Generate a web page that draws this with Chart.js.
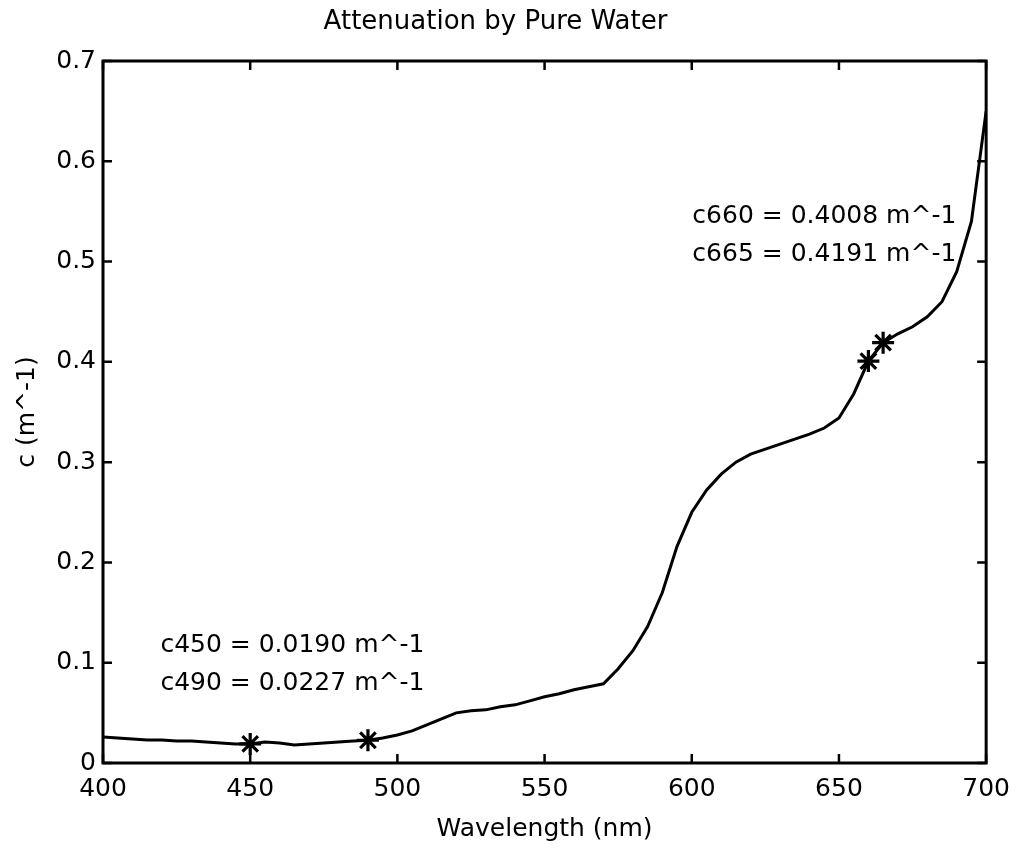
<!DOCTYPE html>
<html>
<head>
<meta charset="utf-8">
<script src="https://cdn.jsdelivr.net/npm/chart.js@4.4.1/dist/chart.umd.min.js"></script>
<style>
  html, body { margin: 0; padding: 0; background: #fff; }
  #wrap { width: 1021px; height: 848px; position: relative; }
</style>
</head>
<body>
<div id="wrap"><canvas id="c"></canvas></div>
<script>
// ---- data ----
const wavelengths = [400,405,410,415,420,425,430,435,440,445,450,455,460,465,470,475,480,485,490,495,
  500,505,510,515,520,525,530,535,540,545,550,555,560,565,570,575,580,585,590,595,
  600,605,610,615,620,625,630,635,640,645,650,655,660,665,670,675,680,685,690,695,700];
const attenuation = [0.026,0.025,0.024,0.023,0.023,0.022,0.022,0.021,0.020,0.019,0.019,0.021,0.020,0.018,0.019,0.020,0.021,0.022,0.0227,0.025,
  0.028,0.032,0.038,0.044,0.050,0.052,0.053,0.056,0.058,0.062,0.066,0.069,0.073,0.076,0.079,0.094,0.112,0.136,0.170,0.216,
  0.250,0.272,0.288,0.300,0.308,0.313,0.318,0.323,0.328,0.334,0.344,0.368,0.4008,0.4191,0.428,0.435,0.445,0.460,0.490,0.540,0.650];
const markerWavelengths = [450, 490, 660, 665];
const markerValues = [0.0190, 0.0227, 0.4008, 0.4191];
const lowerNotes = ["c450 = 0.0190 m^-1", "c490 = 0.0227 m^-1"];
const upperNotes = ["c660 = 0.4008 m^-1", "c665 = 0.4191 m^-1"];
const xTicks = [400, 450, 500, 550, 600, 650, 700];
const yTicks = [0, 0.1, 0.2, 0.3, 0.4, 0.5, 0.6, 0.7];
const titleText = "Attenuation by Pure Water";
const xTitle = "Wavelength (nm)";
const yTitle = "c (m^-1)";

const FONT = "'DejaVu Sans', 'Liberation Sans', sans-serif";

const curve = wavelengths.map((w, i) => ({ x: w, y: attenuation[i] }));
const markers = markerWavelengths.map((w, i) => ({ x: w, y: markerValues[i] }));

const framePlugin = {
  id: 'frame',
  afterDraw(chart) {
    const { ctx, chartArea: a, scales: { x, y } } = chart;
    ctx.save();
    ctx.strokeStyle = '#000';
    ctx.lineWidth = 3;
    ctx.strokeRect(a.left, a.top, a.right - a.left, a.bottom - a.top);
    const L = 9;
    ctx.lineWidth = 2.5;
    ctx.beginPath();
    xTicks.forEach(v => {
      const px = x.getPixelForValue(v);
      ctx.moveTo(px, a.bottom); ctx.lineTo(px, a.bottom - L);
      ctx.moveTo(px, a.top); ctx.lineTo(px, a.top + L);
    });
    yTicks.forEach(v => {
      const py = y.getPixelForValue(v);
      ctx.moveTo(a.left, py); ctx.lineTo(a.left + L, py);
      ctx.moveTo(a.right, py); ctx.lineTo(a.right - L, py);
    });
    ctx.stroke();
    // text notes (placed in data coordinates)
    ctx.fillStyle = '#000';
    ctx.font = "25px " + FONT;
    ctx.textAlign = 'left';
    ctx.textBaseline = 'alphabetic';
    const lx = x.getPixelForValue(419.5);
    ctx.fillText(lowerNotes[0], lx, y.getPixelForValue(0.111));
    ctx.fillText(lowerNotes[1], lx, y.getPixelForValue(0.073));
    const ux = x.getPixelForValue(600.2);
    ctx.fillText(upperNotes[0], ux, y.getPixelForValue(0.538));
    ctx.fillText(upperNotes[1], ux, y.getPixelForValue(0.501));
    ctx.restore();
  }
};

new Chart(document.getElementById('c'), {
  type: 'line',
  data: {
    datasets: [
      {
        type: 'line',
        data: curve,
        borderColor: '#000',
        borderWidth: 3,
        pointRadius: 0,
        tension: 0,
        fill: false
      },
      {
        type: 'scatter',
        data: markers,
        pointStyle: 'star',
        pointRadius: 11,
        pointBorderWidth: 3.2,
        borderColor: '#000',
        backgroundColor: '#000',
        showLine: false
      }
    ]
  },
  options: {
    responsive: true,
    maintainAspectRatio: false,
    animation: false,
    events: [],
    layout: { padding: { left: 0, right: 30, top: 0, bottom: 0 } },
    plugins: {
      legend: { display: false },
      tooltip: { enabled: false },
      title: {
        display: true,
        text: titleText,
        color: '#000',
        font: { family: FONT, size: 26, weight: 'normal', lineHeight: 1.2 },
        padding: { top: 7, bottom: 22.8 }
      }
    },
    scales: {
      x: {
        type: 'linear',
        min: 400, max: 700,
        afterBuildTicks: s => { s.ticks = xTicks.map(v => ({ value: v })); },
        afterFit: s => { s.height = 85; },
        grid: { display: false, drawTicks: false },
        border: { display: false },
        ticks: {
          color: '#000', autoSkip: false, maxRotation: 0, padding: 11,
          font: { family: FONT, size: 25, lineHeight: 1.2 },
          callback: v => String(v)
        },
        title: {
          display: true, text: xTitle, color: '#000',
          font: { family: FONT, size: 25, lineHeight: 1.2 },
          padding: { top: 0, bottom: 4 }
        }
      },
      y: {
        type: 'linear',
        min: 0, max: 0.7,
        afterBuildTicks: s => { s.ticks = yTicks.map(v => ({ value: v })); },
        afterFit: s => { s.width = 103; },
        grid: { display: false, drawTicks: false },
        border: { display: false },
        ticks: {
          color: '#000', autoSkip: false, padding: 7,
          font: { family: FONT, size: 25, lineHeight: 1.2 },
          callback: v => (v === 0 ? '0' : Number(v).toFixed(1))
        },
        title: {
          display: true, text: yTitle, color: '#000',
          font: { family: FONT, size: 25, lineHeight: 1.2 },
          padding: { top: 12, bottom: 0 }
        }
      }
    }
  },
  plugins: [framePlugin]
});
</script>
</body>
</html>
